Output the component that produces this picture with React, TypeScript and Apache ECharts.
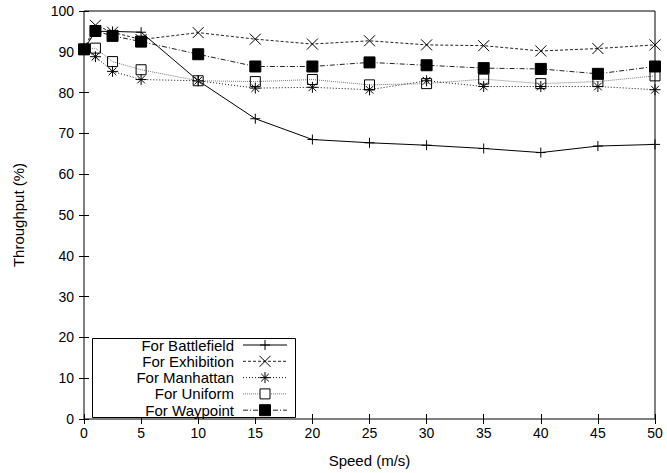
import React, { useEffect, useRef } from "react";
import * as echarts from "echarts";

// Mobile node speed (m/s)
const speeds = [0, 1, 2.5, 5, 10, 15, 20, 25, 30, 35, 40, 45, 50];

// Throughput (%) per mobility model
const battlefield = [90.6, 95.0, 95.0, 94.8, 82.9, 73.6, 68.5, 67.7, 67.1, 66.3, 65.3, 66.9, 67.3];
const exhibition = [90.6, 96.5, 94.8, 93.0, 94.7, 93.1, 91.9, 92.7, 91.7, 91.5, 90.2, 90.8, 91.7];
const manhattan = [90.6, 88.8, 85.2, 83.2, 82.9, 81.1, 81.3, 80.7, 82.9, 81.5, 81.5, 81.5, 80.7];
const uniform = [90.6, 90.9, 87.6, 85.6, 82.9, 82.7, 83.2, 81.9, 82.2, 83.3, 82.2, 82.7, 84.1];
const waypoint = [90.6, 95.1, 93.9, 92.5, 89.4, 86.4, 86.4, 87.4, 86.7, 86.0, 85.8, 84.6, 86.4];

const seriesNames = ["For Battlefield", "For Exhibition", "For Manhattan", "For Uniform", "For Waypoint"];
const xTicks = [0, 5, 10, 15, 20, 25, 30, 35, 40, 45, 50];
const yTicks = [0, 10, 20, 30, 40, 50, 60, 70, 80, 90, 100];

const FONT = '"Liberation Sans", Arial, Helvetica, sans-serif';

type Marker = "plus" | "cross" | "star" | "box" | "boxFilled";

const styles: { marker: Marker; dash: number[] | "solid"; color: string; size: number }[] = [
  { marker: "plus", dash: "solid", color: "#000", size: 10 },
  { marker: "cross", dash: [3, 2], color: "#222", size: 11 },
  { marker: "star", dash: [1, 2], color: "#111", size: 11 },
  { marker: "box", dash: [1, 1], color: "#777", size: 10 },
  { marker: "boxFilled", dash: [5, 2, 1, 2], color: "#222", size: 11 },
];

const symbolOf = (m: Marker) => {
  switch (m) {
    case "plus":
      return "path://M0,5L10,5M5,0L5,10";
    case "cross":
      return "path://M0,0L10,10M10,0L0,10";
    case "star":
      return "path://M0,5L10,5M5,0L5,10M1.5,1.5L8.5,8.5M8.5,1.5L1.5,8.5";
    default:
      return "rect";
  }
};

const markerGraphic = (m: Marker, cx: number, cy: number, size: number) => {
  const h = size / 2;
  const ln = (x1: number, y1: number, x2: number, y2: number) => ({
    type: "line",
    shape: { x1, y1, x2, y2 },
    style: { stroke: "#000", lineWidth: 1 },
  });
  if (m === "plus") return [ln(cx - h, cy, cx + h, cy), ln(cx, cy - h, cx, cy + h)];
  if (m === "cross") return [ln(cx - h, cy - h, cx + h, cy + h), ln(cx + h, cy - h, cx - h, cy + h)];
  if (m === "star") {
    const d = h * 0.7;
    return [
      ln(cx - h, cy, cx + h, cy),
      ln(cx, cy - h, cx, cy + h),
      ln(cx - d, cy - d, cx + d, cy + d),
      ln(cx + d, cy - d, cx - d, cy + d),
    ];
  }
  return [
    {
      type: "rect",
      shape: { x: cx - h, y: cy - h, width: size, height: size },
      style: { fill: m === "boxFilled" ? "#000" : "#fff", stroke: "#000", lineWidth: 1 },
    },
  ];
};

export default function App() {
  const ref = useRef<HTMLDivElement>(null);

  useEffect(() => {
    if (!ref.current) return;
    const chart = echarts.init(ref.current, undefined, { renderer: "svg" });
    const allData = [battlefield, exhibition, manhattan, uniform, waypoint];

    const series = allData.map((vals, i) => {
      const s = styles[i];
      return {
        name: seriesNames[i],
        type: "line",
        data: speeds.map((x, j) => [x, vals[j]]),
        symbol: symbolOf(s.marker),
        symbolSize: s.size,
        symbolKeepAspect: true,
        showAllSymbol: true,
        lineStyle: { color: s.color, width: 1, type: s.dash },
        itemStyle: {
          color: s.marker === "boxFilled" ? "#000" : "none",
          borderColor: "#000",
          borderWidth: 1,
        },
        emphasis: { disabled: true },
        z: 2 + i,
      };
    });

    // Legend drawn as a boxed key, text right-aligned with sample at right
    const legendX = 92;
    const legendY = 338;
    const rowH = 16.3;
    const graphics: any[] = [
      {
        type: "rect",
        shape: { x: legendX + 0.5, y: legendY + 0.5, width: 203, height: 79 },
        style: { fill: "#fff", stroke: "#000", lineWidth: 1 },
        z: 10,
      },
    ];
    seriesNames.forEach((name, i) => {
      const cy = legendY + 7 + rowH * i;
      const s = styles[i];
      graphics.push({
        type: "text",
        x: 234,
        y: cy,
        style: { text: name, font: `15px ${FONT}`, fill: "#000", align: "right", verticalAlign: "middle" },
        z: 11,
      });
      graphics.push({
        type: "line",
        shape: { x1: 243, y1: cy, x2: 287, y2: cy },
        style: { stroke: s.color, lineWidth: 1, lineDash: s.dash === "solid" ? null : s.dash },
        z: 11,
      });
      markerGraphic(s.marker, 265, cy, s.size).forEach((g) => graphics.push({ ...g, z: 12 }));
    });

    const axisCommon = {
      type: "value" as const,
      axisLine: { show: false },
      splitLine: { show: false },
      axisTick: { show: true, inside: true, length: 5, lineStyle: { color: "#000", width: 1 } },
    };

    chart.setOption({
      animation: false,
      backgroundColor: "#fff",
      grid: {
        left: 84,
        right: 12,
        top: 11,
        bottom: 52,
        show: true,
        borderColor: "#000",
        borderWidth: 1,
        backgroundColor: "transparent",
      },
      xAxis: [
        {
          ...axisCommon,
          min: xTicks[0],
          max: xTicks[xTicks.length - 1],
          interval: 5,
          position: "bottom",
          name: "Speed (m/s)",
          nameLocation: "middle",
          nameGap: 34,
          nameTextStyle: { fontFamily: FONT, fontSize: 15, color: "#000" },
          axisLabel: { fontFamily: FONT, fontSize: 14, color: "#000", margin: 7 },
        },
        {
          ...axisCommon,
          min: xTicks[0],
          max: xTicks[xTicks.length - 1],
          interval: 5,
          position: "top",
          axisLabel: { show: false },
        },
      ],
      yAxis: [
        {
          ...axisCommon,
          min: yTicks[0],
          max: yTicks[yTicks.length - 1],
          interval: 10,
          position: "left",
          name: "Throughput (%)",
          nameLocation: "middle",
          nameGap: 58,
          nameTextStyle: { fontFamily: FONT, fontSize: 15, color: "#000" },
          axisLabel: { fontFamily: FONT, fontSize: 14, color: "#000", margin: 10 },
        },
        {
          ...axisCommon,
          min: yTicks[0],
          max: yTicks[yTicks.length - 1],
          interval: 10,
          position: "right",
          axisLabel: { show: false },
        },
      ],
      series,
      graphic: graphics,
    });

    return () => chart.dispose();
  }, []);

  return <div ref={ref} style={{ position: "fixed", left: 0, top: 0, width: 667, height: 473 }} />;
}
